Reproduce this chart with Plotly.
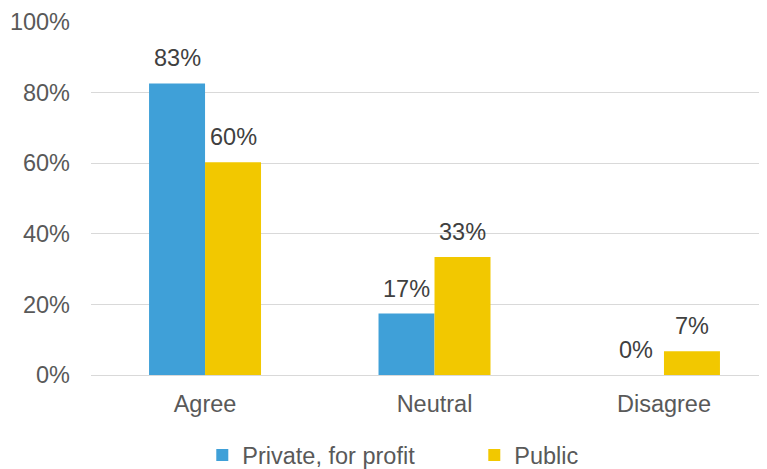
import plotly.graph_objects as go

categories = ["Agree", "Neutral", "Disagree"]
private_vals = [82.6, 17.4, 0.0]
public_vals = [60.3, 33.4, 6.7]
series_names = ["Private, for profit", "Public"]
labels_private = ["83%", "17%", "0%"]
labels_public = ["60%", "33%", "7%"]
y_ticks = [0, 20, 40, 60, 80, 100]
y_tick_text = ["0%", "20%", "40%", "60%", "80%", "100%"]

BLUE = "#3FA0D8"
YELLOW = "#F2C800"
FONT = "Liberation Sans, Arial, sans-serif"
FS = 23.5

fig = go.Figure()
fig.add_trace(go.Bar(name=series_names[0], x=categories, y=private_vals,
                     marker=dict(color=BLUE, line=dict(width=0))))
fig.add_trace(go.Bar(name=series_names[1], x=categories, y=public_vals,
                     marker=dict(color=YELLOW, line=dict(width=0))))

bar_w = 0.244
for i, c in enumerate(categories):
    for vals, labs, off in ((private_vals, labels_private, -bar_w / 2),
                            (public_vals, labels_public, bar_w / 2)):
        fig.add_annotation(x=i + off, y=vals[i], text=labs[i], showarrow=False,
                           xref="x", yref="y", yanchor="middle", yshift=25,
                           font=dict(family=FONT, size=FS, color="#404040"))

fig.update_layout(
    width=759, height=461,
    margin=dict(l=83, r=0, t=14, b=94, autoexpand=False),
    paper_bgcolor="white", plot_bgcolor="white",
    barmode="group", bargap=0.512, bargroupgap=0,
    font=dict(family=FONT, size=FS, color="#595959"),
    showlegend=True,
    legend=dict(orientation="h", x=0.567, xanchor="center", y=-0.165, yanchor="top",
                font=dict(family=FONT, size=FS, color="#595959"),
                entrywidth=227, entrywidthmode="pixels", itemwidth=30,
                traceorder="normal"),
)
fig.update_xaxes(type="category", range=[-0.497, 2.449], showgrid=False,
                 showline=False, ticks="", tickfont=dict(size=FS, color="#595959"),
                 ticklabelstandoff=12, automargin=False)
fig.update_yaxes(range=[0, 100], tickvals=y_ticks, ticktext=y_tick_text,
                 showgrid=True, gridcolor="#D9D9D9", gridwidth=1.3,
                 zeroline=True, zerolinecolor="#D9D9D9", zerolinewidth=1.3,
                 showline=False, ticks="", ticklabelstandoff=20, automargin=False,
                 tickfont=dict(size=FS, color="#595959"))

fig.write_html("out.html")
